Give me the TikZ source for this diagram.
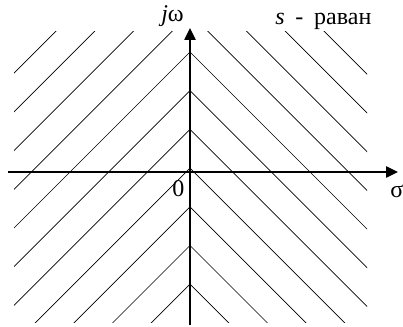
\documentclass[tikz,border=0pt]{standalone}
\usepackage{fontspec}
\setmainfont{Liberation Serif}
\usetikzlibrary{arrows.meta,positioning}

\begin{document}
\begin{tikzpicture}[
	x=0.75pt, y=-0.75pt,
	every node/.style={font=\fontsize{18}{20}\selectfont, inner sep=0pt},
	axis/.style={line width=1.1pt, -{Triangle[length=9pt, width=8.5pt]}},
	hatch/.style={line width=0.5pt}
	]
	
	\useasboundingbox (0,0) rectangle (403,327);
	
	\coordinate (origin) at (190,172);
	\coordinate (west) at (8,172);
	\coordinate (east) at (398,172);
	\coordinate (south) at (190,325);
	\coordinate (north) at (190,28);
	
	% left half-plane
	\begin{scope}
		\clip (14,32) rectangle (origin |- 0,323);
		\foreach \k in {-4,...,6}
			\draw[hatch] (190,52+38.7*\k) -- ++(-400,400);
	\end{scope}
	
	% right half-plane
	\begin{scope}
		\clip (origin |- 0,32) rectangle (367,323);
		\foreach \k in {-4,...,6}
			\draw[hatch] (190,52+38.7*\k) -- ++(400,400);
	\end{scope}
	
	\draw[axis] (west) -- (east);
	\draw[axis] (south) -- (north);
	
	\node[anchor=base west] (jw) at (161,22) {\textit{j}ω};
	\node[anchor=base west] (plane) at (275,25) {\textit{s}\hspace{0.45em}-\hspace{0.45em}раван};
	\node[anchor=base west] (zero) at (172,197) {0};
	\node[anchor=base west] (sigma) at (390,198) {σ};
	
\end{tikzpicture}
\end{document}
